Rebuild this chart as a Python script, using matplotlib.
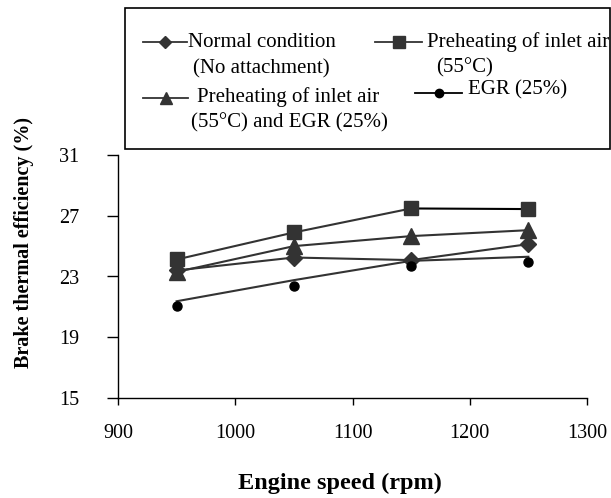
import matplotlib.pyplot as plt
from matplotlib.lines import Line2D
from matplotlib.patches import Rectangle

plt.rcParams["font.family"] = ["Liberation Serif", "DejaVu Serif"]

speed = [950, 1050, 1150, 1250]
normal = [23.4, 24.25, 24.08, 25.13]
preheat = [24.12, 25.9, 27.48, 27.44]
preheat_egr = [23.3, 25.0, 25.66, 26.05]
egr_line = [21.37, 22.76, 24.03, 24.3]
egr_points = [21.04, 22.36, 23.68, 23.93]

x_ticks = [900, 1000, 1100, 1200, 1300]
y_ticks = [15, 19, 23, 27, 31]

W, H = 611, 498
fig = plt.figure(figsize=(W / 100, H / 100), dpi=100)
ax = fig.add_axes([118 / W, 1 - 398 / H, (587 - 118) / W, (398 - 155) / H])

dark = "#333333"
ax.plot(speed, normal, color=dark, lw=1.5, marker="D", ms=8.5, mfc=dark, mec=dark)
ax.plot(speed[:3], preheat[:3], color=dark, lw=1.5)
ax.plot(speed[2:], preheat[2:], color="black", lw=1.5)
ax.plot(speed, preheat, ls="none", marker="s", ms=10.5, mfc=dark, mec=dark)
ax.plot(speed, preheat_egr, color=dark, lw=1.5, marker="^", ms=11, mfc=dark, mec=dark)
ax.plot(speed, egr_line, color=dark, lw=1.5)
ax.plot(speed, egr_points, ls="none", marker="o", ms=6.5, mfc="black", mec="black")

ax.set_xlim(900, 1300)
ax.set_ylim(15, 31)
ax.set_xticks(x_ticks)
ax.set_yticks(y_ticks)
ax.spines[["top", "right"]].set_visible(False)
ax.spines[["left", "bottom"]].set_linewidth(1.0)
ax.tick_params(axis="x", direction="out", length=5, width=1.0, labelsize=14.5, pad=14)
ax.tick_params(axis="y", direction="out", length=8, width=1.0, labelsize=14.5, pad=20)

fig.text(340 / W, 1 - 483 / H, "Engine speed (rpm)", ha="center", va="center",
         fontsize=17.5, fontweight="bold")
fig.text(24 / W, 1 - 242 / H, "Brake thermal efficiency (%)", ha="center", va="center",
         rotation=90, fontsize=14.5, fontweight="bold")

# legend drawn in pixel coordinates
ov = fig.add_axes([0, 0, 1, 1], facecolor="none")
ov.set_xlim(0, W)
ov.set_ylim(H, 0)
ov.axis("off")
ov.add_patch(Rectangle((125, 8), 485, 141, fill=False, ec="black", lw=1.2))

handles = [
    (143, 187, 42, "D", 6, dark),
    (375, 422, 42, "s", 8, dark),
    (143, 188, 98, "^", 9, dark),
    (415, 462, 93, "o", 6, "black"),
]
for x0, x1, y, m, ms, c in handles:
    ov.add_line(Line2D([x0, x1], [y, y], color=dark if m != "o" else "black", lw=1.3))
    ov.plot([(x0 + x1) / 2], [y], marker=m, ms=ms, color=c, ls="none")

fs = 15
ov.text(188, 42, "Normal condition", fontsize=fs, va="center", ha="left")
ov.text(193, 69, "(No attachment)", fontsize=fs, va="center", ha="left")
ov.text(427, 42, "Preheating of inlet air", fontsize=fs, va="center", ha="left")
ov.text(436, 68, "(55°C)", fontsize=fs, va="center", ha="left")
ov.text(197, 97, "Preheating of inlet air", fontsize=fs, va="center", ha="left")
ov.text(191, 123, "(55°C) and EGR (25%)", fontsize=fs, va="center", ha="left")
ov.text(468, 90, "EGR (25%)", fontsize=fs, va="center", ha="left")

fig.savefig("out.png", dpi=100)
